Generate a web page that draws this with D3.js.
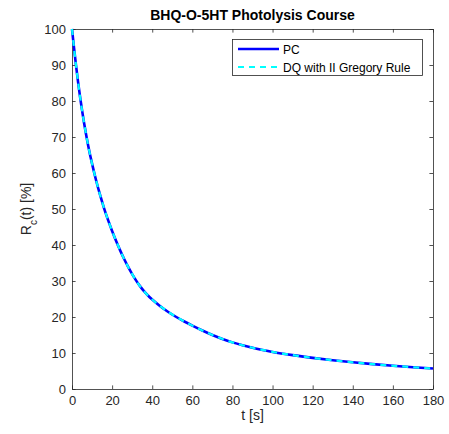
<!DOCTYPE html>
<html><head><meta charset="utf-8">
<script src="https://cdn.jsdelivr.net/npm/d3@7"></script>
<style>body{margin:0;background:#fff;} svg{display:block;font-family:"Liberation Sans",Arial,Helvetica,sans-serif;}</style>
</head><body>
<script>
const tValues = [0,1,2,3,4,5,6,7,8,9,10,12,14,16,18,20,22,24,26,28,30,32,34,36,38,40,44,48,52,56,60,65,70,75,80,85,90,95,100,110,120,130,140,150,160,170,180];
const pcValues = [100,94.8,89.9,85.4,81.25,77.45,73.95,70.75,67.8,65.1,62.6,58.0,53.9,50.2,46.9,43.9,41.1,38.5,36.1,33.9,31.9,30.1,28.5,27.1,25.9,24.85,23.0,21.4,20.0,18.75,17.6,16.25,15.0,13.9,12.95,12.15,11.45,10.85,10.3,9.4,8.65,8.0,7.42,6.9,6.45,6.05,5.68];
const dqValues = [100,94.8,89.9,85.4,81.25,77.45,73.95,70.75,67.8,65.1,62.6,58.0,53.9,50.2,46.9,43.9,41.1,38.5,36.1,33.9,31.9,30.1,28.5,27.1,25.9,24.85,23.0,21.4,20.0,18.75,17.6,16.25,15.0,13.9,12.95,12.15,11.45,10.85,10.3,9.4,8.65,8.0,7.42,6.9,6.45,6.05,5.68];
const xTicks = [0,20,40,60,80,100,120,140,160,180];
const yTicks = [0,10,20,30,40,50,60,70,80,90,100];
const seriesNames = ["PC","DQ with II Gregory Rule"];
const titleText = "BHQ-O-5HT Photolysis Course";

(function(){
const W=449,H=434;
const m={left:72,right:16,top:29,bottom:45};
const svg=d3.select("body").append("svg").attr("width",W).attr("height",H);
const x=d3.scaleLinear().domain([0,180]).range([m.left,W-m.right]);
const y=d3.scaleLinear().domain([0,100]).range([H-m.bottom,m.top]);
const axCol="#262626";

const tl=3.6;
const gB=svg.append("g").attr("transform",`translate(0,${y(0)})`)
  .call(d3.axisBottom(x).tickValues(xTicks).tickSizeInner(-tl).tickSizeOuter(0).tickPadding(7));
const gT=svg.append("g").attr("transform",`translate(0,${y(100)})`)
  .call(d3.axisTop(x).tickValues(xTicks).tickSizeInner(-tl).tickSizeOuter(0).tickFormat(""));
const gL=svg.append("g").attr("transform",`translate(${x(0)},0)`)
  .call(d3.axisLeft(y).tickValues(yTicks).tickSizeInner(-tl).tickSizeOuter(0).tickPadding(6));
const gR=svg.append("g").attr("transform",`translate(${x(180)},0)`)
  .call(d3.axisRight(y).tickValues(yTicks).tickSizeInner(-tl).tickSizeOuter(0).tickFormat(""));
[gB,gT,gL,gR].forEach(g=>{
  g.selectAll("path").attr("stroke",axCol).attr("stroke-width",0.8);
  g.selectAll("line").attr("stroke",axCol).attr("stroke-width",0.8);
  g.selectAll("text").attr("fill",axCol).style("font-size","13px").style("font-family","'Liberation Sans',Arial,sans-serif");
});

const data=tValues.map((t,i)=>({t,pc:pcValues[i],dq:dqValues[i]}));
const lineP=d3.line().x(d=>x(d.t)).y(d=>y(d.pc)).curve(d3.curveMonotoneX);
const lineD=d3.line().x(d=>x(d.t)).y(d=>y(d.dq)).curve(d3.curveMonotoneX);
svg.append("path").datum(data).attr("d",lineP).attr("fill","none").attr("stroke","#0000ff").attr("stroke-width",2.6);
svg.append("path").datum(data).attr("d",lineD).attr("fill","none").attr("stroke","#00ffff").attr("stroke-width",2.2).attr("stroke-dasharray","6,5");

svg.append("text").attr("x",(x(0)+x(180))/2).attr("y",20).attr("text-anchor","middle")
  .style("font-size","14px").style("font-weight","bold").attr("fill","#000").text(titleText);

svg.append("text").attr("x",(x(0)+x(180))/2).attr("y",420).attr("text-anchor","middle")
  .style("font-size","14px").attr("fill",axCol).text("t [s]");

const yl=svg.append("text").attr("transform",`translate(31,${(y(0)+y(100))/2}) rotate(-90)`).attr("text-anchor","middle")
  .style("font-size","14px").attr("fill",axCol);
yl.append("tspan").text("R");
yl.append("tspan").attr("baseline-shift","sub").style("font-size","10px").text("c");
yl.append("tspan").text("(t) [%]");

const lg=svg.append("g");
lg.append("rect").attr("x",232.5).attr("y",39.5).attr("width",190).attr("height",36).attr("fill","#fff").attr("stroke",axCol).attr("stroke-width",0.8);
lg.append("line").attr("x1",238).attr("x2",279).attr("y1",49).attr("y2",49).attr("stroke","#0000ff").attr("stroke-width",2.6);
lg.append("line").attr("x1",238).attr("x2",279).attr("y1",67).attr("y2",67).attr("stroke","#00ffff").attr("stroke-width",2.2).attr("stroke-dasharray","6,5");
lg.append("text").attr("x",283).attr("y",53.5).style("font-size","12px").attr("fill","#000").text(seriesNames[0]);
lg.append("text").attr("x",283).attr("y",71.5).style("font-size","12px").attr("fill","#000").text(seriesNames[1]);
})();
</script>
</body></html>
